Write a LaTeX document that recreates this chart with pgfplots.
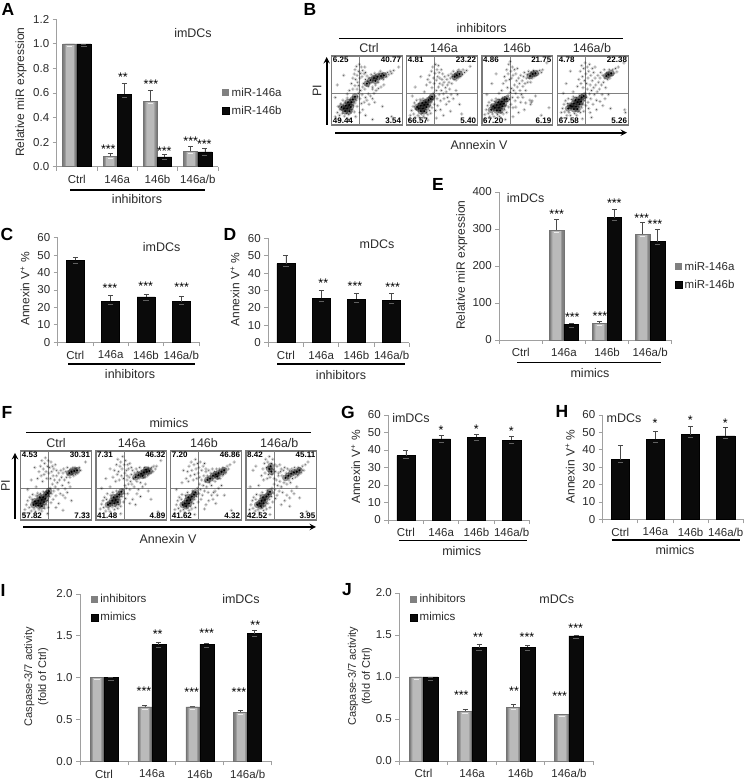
\documentclass[border=0pt]{standalone}
\usepackage{fontspec}
\usepackage{pgfplots}
\pgfplotsset{compat=1.18}
\setmainfont{Liberation Sans}
\definecolor{axc}{HTML}{A0A0A0}
\definecolor{txt}{HTML}{2A2A2A}
\definecolor{errc}{HTML}{4A4A4A}
\newcommand\ft{\fontsize{11.5}{13}\selectfont}
\newcommand\fl{\fontsize{12.5}{14}\selectfont}
\pgfplotsset{
 ylab/.style n args={3}{every axis y label/.style={rotate=90,anchor=center,at={(axis description cs:#1,#2)},font=\fontsize{#3}{14}\selectfont,text=txt,align=center}},
 barax/.style={scale only axis, axis lines=left, axis line style={-,draw=axc,line width=.8pt},
  tick style={draw=axc,line width=.8pt}, tick align=outside, major tick length=4pt,
  xmin=-.5,xmax=3.5,ymin=0, xtick={-.5,.5,1.5,2.5,3.5}, x tick label as interval,
  xticklabels={Ctrl,146a,146b,146a/b},
  tick label style={font=\ft,text=txt},
  x tick label style={yshift=-1pt},
  y tick label style={/pgf/number format/.cd,fixed,fixed zerofill,assume math mode=true},
  clip=false,
  legend image code/.code={\path[##1] (0pt,-3.5pt) rectangle (7pt,3.5pt);},
  legend style={draw=none,fill=none,font=\ft,text=txt,row sep=4.5pt,inner sep=0pt,anchor=west,
   /tikz/every even column/.append style={column sep=1pt}},
  legend cell align=left},
 gst/.style={draw=none,fill=black!50},
 kst/.style={draw=black,fill=black!96,line width=.5pt},
 flowax/.style={scale only axis,width=70.5pt,height=69pt,xmin=0,xmax=100,ymin=0,ymax=100,
  ticks=none,axis line style={draw=black!52,line width=1.2pt},clip=true},
 cl/.style={only marks,mark=*,mark size=.38pt,mark options={line width=0pt,draw opacity=0,fill=black}},
 clh/.style={only marks,mark=*,mark size=1.9pt,mark options={line width=0pt,draw opacity=0,fill=black,fill opacity=.2}},
 co/.style={only marks,mark=*,mark size=1.1pt,mark options={line width=0pt,draw opacity=0,fill=black}},
 coh/.style={only marks,mark=*,mark size=3.4pt,mark options={line width=0pt,draw opacity=0,fill=black,fill opacity=.42}},
 gate/.style={black!50,line width=.9pt},
 eb/.style={error bars/.cd,y dir=plus,y explicit,error bar style={errc,line width=.7pt},
  error mark options={errc,line width=.7pt,mark size=2.5pt,rotate=90}}
}
\newcommand\gb[2]{\addplot[ybar,bar shift=0pt,bar width=#1pt,gst,eb] coordinates {#2};
 \addplot[forget plot,ybar,bar shift=0pt,bar width=#1pt-3.5pt,draw=none,fill=black!40] coordinates {#2};
 \addplot[forget plot,ybar,bar shift=0pt,bar width=#1pt-6pt,draw=none,fill=black!27] coordinates {#2};
 \addplot[forget plot,ybar,bar shift=0pt,bar width=#1pt,draw=black!55,line width=.7pt,fill=none] coordinates {#2};
 \addplot[forget plot,only marks,mark=-,mark size=2.6pt,mark options={draw=black!8,line width=1pt},yshift=-2.2pt] coordinates {#2};}
\newcommand\kb[2]{\addplot[ybar,bar shift=0pt,bar width=#1pt,kst,eb] coordinates {#2};
 \addplot[forget plot,only marks,mark=-,mark size=2.6pt,mark options={draw=black!62,line width=.9pt},yshift=-3pt] coordinates {#2};}
\newcommand\flow[8]{\begin{axis}[flowax,at={(#1pt,780pt-#2pt-69pt)},anchor=south west]
 \addplot[clh] coordinates {#8};
 \addplot[coh] coordinates {#7};
 \addplot[cl] coordinates {#8};
 \addplot[co] coordinates {#7};
 \addplot[gate] coordinates {(40,0)(40,100)};
 \addplot[gate] coordinates {(0,46)(100,46)};
 \node[anchor=north west,inner sep=1pt,font=\fontsize{8}{9}\selectfont\bfseries] at (rel axis cs:0,1) {#3};
 \node[anchor=north east,inner sep=1pt,font=\fontsize{8}{9}\selectfont\bfseries] at (rel axis cs:1,1) {#4};
 \node[anchor=south west,inner sep=1pt,font=\fontsize{8}{9}\selectfont\bfseries] at (rel axis cs:0,0) {#5};
 \node[anchor=south east,inner sep=1pt,font=\fontsize{8}{9}\selectfont\bfseries] at (rel axis cs:1,0) {#6};
\end{axis}}
\newcommand\st[3]{\node[anchor=base,inner sep=0pt,font=\fontsize{12.5}{13}\selectfont,text=black] at (#1pt,780pt-#2pt-6.8pt) {#3};}
\newcommand\tx[3]{\node[anchor=center,inner sep=0pt,font=\fl,text=txt] at (#1pt,780pt-#2pt) {#3};}
\newcommand\ltr[3]{\node[anchor=center,inner sep=0pt,font=\fontsize{17.5}{18}\selectfont\bfseries] at (#1pt,780pt-#2pt) {#3};}
\newcommand\ul[3]{\draw[black,line width=1.1pt] (#1pt,780pt-#3pt) -- (#2pt,780pt-#3pt);}
\begin{document}
\begin{tikzpicture}
\useasboundingbox (0pt,0pt) rectangle (745pt,780pt);
% A
\begin{axis}[barax,at={(56.7pt,780pt-166.7pt)},anchor=south west,width=161.3pt,height=147.4pt,ymax=1.2,
 ytick={0,.2,.4,.6,.8,1,1.2},y tick label style={/pgf/number format/precision=1},
 ylabel={Relative miR expression},ylab={-.221}{.505}{12},
 legend entries={miR-146a,miR-146b},legend style={at={(axis description cs:1.025,.439)}}]
\gb{14}{(-.175,1) +- (0,0) (.825,.085) +- (0,.02) (1.825,.53) +- (0,.095) (2.825,.125) +- (0,.04)}
\kb{14}{(.175,1) +- (0,0) (1.175,.59) +- (0,.09) (2.175,.08) +- (0,.02) (3.175,.12) +- (0,.03)}
\end{axis}
% C
\begin{axis}[barax,at={(57.7pt,780pt-342.3pt)},anchor=south west,width=141.3pt,height=104.6pt,ymax=60,
 ytick={0,10,...,60},y tick label style={/pgf/number format/precision=0},
 ylabel={Annexin V\textsuperscript{+} \%},ylab={-.231}{.51}{12}]
\kb{18}{(0,47) +- (0,2) (1,23.6) +- (0,3.3) (2,26) +- (0,1.7) (3,23.3) +- (0,3)}
\end{axis}
% D
\begin{axis}[barax,at={(268.3pt,780pt-342.7pt)},anchor=south west,width=141pt,height=104.4pt,ymax=60,
 ytick={0,10,...,60},y tick label style={/pgf/number format/precision=0},
 ylabel={Annexin V\textsuperscript{+} \%},ylab={-.236}{.51}{12}]
\kb{18}{(0,45.5) +- (0,4.5) (1,25.5) +- (0,4.5) (2,25) +- (0,3.5) (3,24.5) +- (0,4)}
\end{axis}
% E
\begin{axis}[barax,at={(499.3pt,780pt-340pt)},anchor=south west,width=172.4pt,height=148pt,ymax=400,
 ytick={0,100,200,300,400},y tick label style={/pgf/number format/precision=0},
 ylabel={Relative miR expression},ylab={-.218}{.505}{12},
 legend entries={miR-146a,miR-146b},legend style={at={(axis description cs:1.019,.432)}}]
\gb{14.7}{(.83,297) +- (0,30) (1.83,45) +- (0,5) (2.83,285) +- (0,33)}
\kb{14.7}{(1.17,43) +- (0,2) (2.17,331) +- (0,23) (3.17,266) +- (0,33)}
\end{axis}
% G
\begin{axis}[barax,at={(388.3pt,780pt-520pt)},anchor=south west,width=141pt,height=105pt,ymax=60,
 ytick={0,10,...,60},y tick label style={/pgf/number format/precision=0},
 ylabel={Annexin V\textsuperscript{+} \%},ylab={-.231}{.505}{12}]
\kb{18.3}{(0,36.8) +- (0,3) (1,46.3) +- (0,1.8) (2,47.2) +- (0,1.8) (3,45.7) +- (0,2)}
\end{axis}
% H
\begin{axis}[barax,at={(602.7pt,780pt-519.3pt)},anchor=south west,width=140.6pt,height=104.3pt,ymax=60,
 ytick={0,10,...,60},y tick label style={/pgf/number format/precision=0},
 ylabel={Annexin V\textsuperscript{+} \%},ylab={-.232}{.505}{12}]
\kb{18.3}{(0,34.4) +- (0,7.9) (1,46) +- (0,4.8) (2,48.7) +- (0,4.6) (3,48) +- (0,4.8)}
\end{axis}
% I
\begin{axis}[barax,at={(80pt,780pt-761.3pt)},anchor=south west,width=191.7pt,height=167.3pt,ymax=2,
 ytick={0,.5,1,1.5,2},y tick label style={/pgf/number format/precision=1},
 ylabel={Caspase-3/7 activity\\(fold of Ctrl)},ylab={-.228}{.505}{11},
 legend entries={inhibitors,mimics},legend style={at={(axis description cs:.056,.9145)}}]
\gb{14}{(-.145,1) +- (0,0) (.855,.65) +- (0,.02) (1.855,.65) +- (0,.005) (2.855,.58) +- (0,.03)}
\kb{14}{(.145,1) +- (0,0) (1.145,1.395) +- (0,.03) (2.145,1.4) +- (0,.01) (3.145,1.525) +- (0,.045)}
\end{axis}
% J
\begin{axis}[barax,at={(399.3pt,780pt-761pt)},anchor=south west,width=194pt,height=168pt,ymax=2,
 ytick={0,.5,1,1.5,2},y tick label style={/pgf/number format/precision=1},
 ylabel={Caspase-3/7 activity\\(fold of Ctrl)},ylab={-.202}{.505}{11},
 legend entries={inhibitors,mimics},legend style={at={(axis description cs:.055,.9095)}}]
\gb{14.5}{(-.145,1) +- (0,0) (.855,.59) +- (0,.025) (1.855,.635) +- (0,.04) (2.855,.55) +- (0,.01)}
\kb{14.5}{(.145,1) +- (0,0) (1.145,1.35) +- (0,.04) (2.145,1.355) +- (0,.025) (3.145,1.49) +- (0,.005)}
\end{axis}
% B flow
\flow{331.7}{56}{6.25}{40.77}{49.44}{3.54}
{(17,24)(20,28)(22,24)(25,29)(27,26)(23,33)(28,33)(30,37)(25,20)(33,41)(14,26)(19,20)(60,68)(65,70)(70,71)(74,72)(55,65)(50,60)(62,64)}
{(5,12)(8,18)(9,27)(11,14)(12,22)(13,31)(15,17)(16,36)(18,13)(19,33)(21,17)(22,39)(24,15)(26,37)(27,19)(29,22)(31,28)(32,19)(33,32)(35,36)(36,27)(37,41)(38,46)(40,38)(41,50)(42,31)(43,44)(44,55)(38,57)(36,52)(45,60)(47,52)(48,66)(49,58)(50,71)(51,63)(52,56)(53,68)(54,60)(56,73)(57,62)(58,55)(59,70)(61,75)(62,58)(63,72)(64,67)(66,62)(67,75)(68,66)(69,78)(71,68)(72,75)(73,66)(76,74)(78,70)(79,76)(81,73)(83,78)(85,75)(88,79)(28,60)(30,68)(32,74)(33,80)(34,66)(35,85)(36,72)(37,62)(38,78)(39,88)(40,68)(41,75)(42,84)(43,70)(44,79)(46,74)(47,84)(48,76)(30,52)(33,57)(25,50)(22,45)(52,45)(55,42)(58,38)(60,46)(63,50)(66,53)(70,55)(74,58)(58,52)(61,33)(48,40)(46,33)(50,36)(53,30)(44,22)(48,14)(58,8)(85,12)(72,27)(95,84)(8,58)(17,72)(5,40)(12,7)(24,8)(34,12)(40,18)}
\flow{406.7}{56}{4.81}{23.22}{66.57}{5.40}
{(17,24)(20,28)(23,24)(25,29)(28,26)(22,32)(27,33)(30,30)(25,20)(31,36)(15,26)(20,20)(34,38)(36,41)(71,72)(75,74)(68,70)}
{(5,14)(7,21)(9,27)(10,16)(11,32)(12,11)(13,23)(14,36)(16,14)(17,31)(18,11)(19,37)(21,16)(23,38)(24,13)(26,36)(28,18)(30,15)(32,21)(33,28)(34,17)(35,33)(36,25)(37,37)(38,46)(39,30)(40,42)(41,21)(42,50)(43,38)(44,28)(45,55)(46,44)(47,60)(48,35)(49,50)(50,66)(51,58)(52,45)(53,62)(54,70)(55,54)(56,48)(57,66)(58,58)(59,72)(60,62)(61,52)(62,68)(63,74)(64,60)(65,70)(66,78)(67,66)(69,74)(70,65)(72,78)(73,68)(74,80)(76,70)(77,77)(79,73)(80,80)(82,76)(85,79)(28,58)(30,66)(32,72)(33,62)(35,78)(36,54)(37,84)(38,68)(39,60)(40,75)(41,88)(42,65)(43,80)(44,70)(45,86)(46,76)(47,68)(49,80)(51,74)(25,48)(53,38)(56,30)(58,40)(60,34)(63,44)(66,38)(70,50)(72,44)(75,30)(48,22)(52,14)(62,20)(78,16)(90,10)(12,55)(20,70)(8,42)(4,8)(30,7)(42,10)(90,85)}
\flow{482}{56}{4.86}{21.75}{67.20}{6.19}
{(18,25)(21,29)(24,25)(26,30)(29,27)(23,33)(28,34)(31,31)(26,21)(32,37)(16,27)(21,21)(35,38)(13,22)(72,74)(76,75)(68,71)}
{(4,15)(6,22)(8,28)(9,17)(10,33)(11,12)(13,29)(14,36)(15,16)(17,12)(18,34)(20,38)(22,15)(24,37)(25,12)(27,18)(29,39)(30,16)(32,22)(34,28)(35,18)(36,34)(37,43)(38,26)(39,37)(40,47)(41,30)(42,53)(43,40)(44,25)(45,50)(46,58)(47,35)(48,46)(49,64)(50,55)(51,40)(52,68)(53,60)(54,50)(55,72)(56,44)(57,64)(58,56)(59,70)(60,76)(61,60)(62,50)(63,68)(64,73)(65,62)(66,78)(67,68)(69,62)(70,76)(71,68)(73,79)(74,70)(77,72)(78,78)(80,74)(82,79)(84,76)(86,80)(30,60)(32,70)(34,64)(35,80)(36,54)(37,74)(38,88)(39,66)(40,92)(41,78)(42,68)(43,84)(44,72)(46,80)(48,74)(50,82)(28,50)(24,46)(68,36)(70,33)(69,30)(71,35)(58,40)(62,32)(55,33)(48,26)(52,18)(60,22)(76,42)(95,25)(84,14)(14,60)(20,74)(7,44)(4,9)(33,8)(44,12)(92,90)}
\flow{557.7}{56}{4.78}{22.38}{67.58}{5.26}
{(20,27)(23,31)(26,27)(28,33)(31,30)(25,36)(30,37)(33,34)(28,23)(34,40)(18,28)(23,23)(37,42)(15,24)(72,73)(76,75)(69,71)}
{(5,18)(7,24)(9,30)(10,19)(11,35)(13,14)(14,31)(15,38)(16,18)(18,14)(20,37)(22,41)(24,17)(26,40)(27,14)(29,20)(31,43)(32,18)(34,25)(36,30)(37,20)(38,36)(39,46)(40,28)(41,40)(42,52)(43,33)(44,24)(45,45)(46,58)(47,38)(48,50)(49,64)(50,30)(51,54)(52,44)(53,68)(54,58)(55,36)(56,48)(57,72)(58,62)(59,52)(60,68)(61,76)(62,58)(63,44)(64,72)(65,62)(66,80)(67,68)(68,54)(70,76)(71,66)(73,80)(74,68)(77,72)(78,80)(80,75)(82,82)(84,77)(86,84)(28,56)(30,66)(32,78)(33,60)(34,86)(35,70)(36,54)(37,82)(38,64)(39,90)(40,74)(41,60)(42,84)(43,68)(44,78)(45,88)(47,72)(49,82)(51,76)(53,84)(22,48)(60,34)(64,28)(67,38)(72,44)(55,22)(46,18)(75,24)(95,22)(96,18)(12,60)(18,78)(8,46)(5,10)(35,9)(48,11)(94,90)}
% F flow
\flow{20.7}{451}{4.53}{30.31}{57.82}{7.33}
{(22,24)(25,28)(28,24)(30,29)(33,26)(27,33)(32,33)(35,31)(30,20)(36,37)(20,27)(25,21)(38,39)(18,22)(40,42)(72,70)(76,71)(80,72)(69,68)}
{(6,15)(8,22)(10,28)(12,18)(13,33)(15,13)(16,30)(17,37)(19,16)(21,12)(22,35)(24,39)(26,15)(28,38)(30,13)(32,41)(34,17)(36,22)(38,28)(39,18)(41,34)(42,46)(43,25)(44,38)(45,52)(46,30)(47,42)(48,58)(49,48)(50,35)(51,64)(52,54)(53,44)(54,68)(55,58)(56,38)(57,72)(58,62)(59,50)(60,68)(61,74)(62,58)(63,45)(64,70)(65,62)(66,76)(67,66)(68,54)(70,62)(71,74)(73,66)(74,76)(75,64)(77,76)(78,66)(79,74)(81,68)(83,76)(85,72)(24,60)(26,70)(28,78)(29,64)(30,86)(31,56)(32,74)(33,66)(34,82)(35,90)(36,70)(37,60)(38,78)(39,86)(40,68)(41,76)(42,60)(43,84)(44,70)(45,78)(46,64)(47,74)(49,80)(51,72)(22,48)(60,36)(63,32)(66,40)(70,48)(54,24)(50,18)(72,28)(60,14)(90,10)(15,58)(20,76)(10,44)(5,9)(38,9)(92,84)}
\flow{96}{451}{7.31}{46.32}{41.48}{4.89}
{(20,24)(23,28)(26,24)(28,29)(31,26)(25,33)(30,34)(33,37)(17,22)(36,41)(64,67)(68,69)(72,70)(76,71)(60,65)(56,62)(66,64)(71,73)}
{(6,16)(8,23)(10,28)(11,18)(12,33)(14,13)(15,30)(16,38)(18,16)(20,12)(21,36)(23,19)(24,40)(26,15)(28,20)(29,42)(31,17)(32,22)(34,30)(35,20)(37,34)(38,44)(39,26)(40,38)(41,50)(42,31)(43,46)(44,58)(45,38)(46,52)(47,62)(48,44)(49,56)(50,66)(51,52)(52,72)(53,60)(54,48)(55,68)(57,74)(58,56)(59,70)(61,60)(62,76)(63,54)(65,72)(67,62)(69,76)(70,62)(73,64)(74,76)(75,66)(77,74)(78,68)(79,76)(81,70)(82,78)(84,74)(86,78)(24,62)(26,72)(28,56)(29,80)(30,66)(31,88)(32,70)(33,58)(34,78)(35,84)(36,64)(37,74)(38,92)(39,60)(40,80)(41,68)(42,86)(43,72)(44,64)(45,80)(46,74)(48,82)(50,76)(20,48)(58,38)(60,44)(63,34)(66,48)(70,52)(74,42)(52,30)(48,24)(56,22)(78,30)(14,60)(20,74)(8,46)(5,9)(35,9)(88,12)(92,86)}
\flow{170.7}{451}{7.20}{46.86}{41.62}{4.32}
{(20,24)(23,28)(26,24)(28,29)(25,33)(30,34)(33,37)(17,22)(35,40)(22,20)(60,64)(64,66)(68,68)(72,70)(76,72)(56,60)(52,58)(66,63)}
{(6,15)(8,22)(10,28)(11,17)(12,33)(14,13)(15,30)(16,37)(18,15)(20,11)(21,36)(23,18)(24,40)(26,14)(28,20)(30,16)(31,42)(32,24)(34,30)(35,18)(37,34)(38,46)(39,26)(40,38)(41,52)(42,44)(43,30)(44,58)(45,36)(46,50)(47,64)(48,42)(49,56)(50,70)(51,48)(52,64)(53,40)(54,72)(55,54)(57,68)(58,50)(59,74)(60,58)(61,40)(62,70)(63,56)(65,74)(67,60)(69,74)(70,60)(73,64)(74,76)(75,66)(77,74)(78,68)(80,78)(82,74)(84,80)(22,60)(24,70)(25,56)(26,78)(28,64)(29,84)(30,72)(32,58)(33,80)(34,66)(35,88)(36,74)(37,60)(38,82)(39,68)(40,76)(41,62)(42,84)(44,72)(46,78)(48,82)(50,74)(58,36)(60,30)(63,42)(66,36)(68,46)(72,50)(54,28)(50,22)(48,16)(64,24)(76,36)(16,54)(18,72)(8,44)(5,9)(34,8)(86,14)(90,84)}
\flow{246}{451}{8.42}{45.11}{42.52}{3.95}
{(19,24)(22,28)(25,24)(27,29)(24,33)(29,34)(32,37)(16,22)(34,41)(21,20)(60,64)(64,67)(68,69)(72,70)(76,72)(56,61)(35,78)(33,74)(36,70)}
{(5,15)(7,22)(9,28)(10,17)(11,33)(13,13)(14,30)(15,37)(17,15)(19,11)(20,36)(22,18)(23,40)(25,14)(27,20)(29,16)(30,43)(31,24)(33,30)(34,18)(36,34)(37,46)(38,26)(39,39)(40,52)(41,44)(42,31)(43,58)(44,36)(45,50)(46,64)(47,42)(48,56)(49,70)(50,48)(51,64)(52,40)(53,72)(54,54)(55,76)(57,68)(58,52)(59,74)(61,58)(62,72)(63,54)(65,74)(66,60)(69,76)(70,62)(73,64)(74,76)(75,66)(77,74)(78,68)(80,78)(82,72)(84,80)(22,64)(24,74)(25,58)(26,82)(27,68)(28,88)(29,76)(30,60)(31,84)(32,66)(33,92)(34,62)(36,82)(37,66)(38,88)(39,74)(40,60)(41,80)(42,70)(44,78)(46,68)(48,80)(50,74)(58,36)(62,32)(65,42)(68,38)(72,48)(55,28)(50,22)(62,20)(76,32)(18,50)(10,72)(14,78)(6,48)(5,9)(34,8)(86,12)(90,92)(88,84)}
% arrows
\draw[black,line width=1.8pt,-stealth] (326.7pt,780pt-125pt) -- (326.7pt,780pt-57pt);
\draw[black,line width=1.8pt,-stealth] (335pt,780pt-132.7pt) -- (627pt,780pt-132.7pt);
\draw[black,line width=1.8pt,-stealth] (15pt,780pt-519pt) -- (15pt,780pt-453pt);
\draw[black,line width=1.8pt,-stealth] (23pt,780pt-527pt) -- (316pt,780pt-527pt);
\node[rotate=90,inner sep=0pt,font=\fl,text=txt] at (317pt,780pt-91pt) {PI};
\node[rotate=90,inner sep=0pt,font=\fl,text=txt] at (5.5pt,780pt-486pt) {PI};
\tx{479}{145}{Annexin V}\tx{168}{539}{Annexin V}
\tx{481.7}{28}{inhibitors}\ul{339}{623}{38.3}
\tx{369}{48}{Ctrl}\tx{444}{48}{146a}\tx{517}{48}{146b}\tx{592}{48}{146a/b}
\tx{169}{422.7}{mimics}\ul{26.3}{310.7}{432.7}
\tx{56}{442.7}{Ctrl}\tx{131.7}{442.7}{146a}\tx{204}{442.7}{146b}\tx{279.3}{442.7}{146a/b}
% underlines and captions
\ul{70}{205}{190}\tx{137}{199}{inhibitors}
\ul{68}{195}{364}\tx{130}{374}{inhibitors}
\ul{277}{405}{364}\tx{341}{375}{inhibitors}
\ul{517.3}{661}{362.7}\tx{590}{373}{mimics}
\ul{399.3}{526.7}{540.7}\tx{461.7}{551.3}{mimics}
\ul{611.7}{740}{540}\tx{675}{550}{mimics}
\tx{193}{33}{imDCs}\tx{161.7}{247}{imDCs}\tx{377}{244}{mDCs}\tx{525.7}{198}{imDCs}
\tx{411}{417.7}{imDCs}\tx{624}{418.3}{mDCs}\tx{241}{599.3}{imDCs}\tx{556.7}{599}{mDCs}
% letters
\ltr{8}{9}{A}\ltr{310}{9}{B}\ltr{7}{234}{C}\ltr{230}{234}{D}\ltr{438}{184}{E}\ltr{7}{412}{F}\ltr{348}{412}{G}\ltr{562}{411}{H}\ltr{3}{590}{I}\ltr{347}{590}{J}
% stars A
\st{108.3}{146.7}{***}\st{123}{74.7}{**}\st{151}{81.7}{***}\st{164.3}{148.3}{***}\st{190.7}{139}{***}\st{204.3}{141.3}{***}
% C D
\st{110}{286}{***}\st{145.7}{283.3}{***}\st{181.7}{284.3}{***}
\st{323.3}{281}{**}\st{355}{283.3}{***}\st{392.7}{284.3}{***}
% E
\st{556.7}{211.7}{***}\st{572.3}{314.3}{***}\st{600}{313.7}{***}\st{614.3}{200.7}{***}\st{641.7}{215.7}{***}\st{655}{221.7}{***}
% G H
\st{441}{427.7}{*}\st{476.3}{426.7}{*}\st{511.3}{428.7}{*}
\st{655}{421}{*}\st{690.3}{417.7}{*}\st{725.3}{420.3}{*}
% I
\st{144}{688.7}{***}\st{157.7}{631.3}{**}\st{191.7}{689.3}{***}\st{206.7}{630.7}{***}\st{239}{689.7}{***}\st{255.3}{622.3}{**}
% J
\st{461.3}{692.7}{***}\st{478}{635}{**}\st{514}{689}{**}\st{527}{634.3}{***}\st{559.7}{693.3}{***}\st{575.7}{625.3}{***}
\end{tikzpicture}
\end{document}
